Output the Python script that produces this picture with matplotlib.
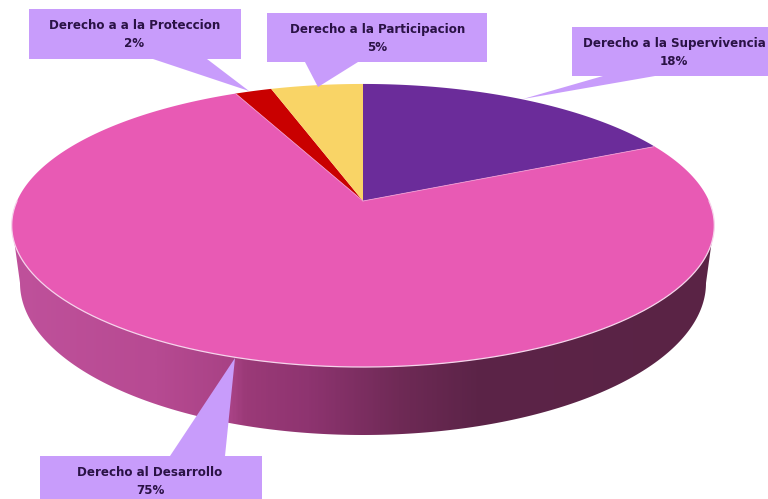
import numpy as np
import matplotlib
matplotlib.use('Agg')
import matplotlib.pyplot as plt
from matplotlib.colors import LinearSegmentedColormap
from matplotlib.patches import Polygon

# Datos del grafico
categorias = ['Derecho a la Supervivencia', 'Derecho al Desarrollo', 'Derecho a a la Proteccion', 'Derecho a la Participacion']
valores = [18, 75, 2, 5]
colores = ['#6B2C9A', '#E85AB4', '#C90000', '#F9D466']

# Perspectiva del disco superior (en pixeles de la imagen)
apex_x, apex_y = 363, 201
k, a, c = 346, 137.3, 0.173


def disco(x, y):
    # circulo unidad -> elipse con el centro desplazado
    den = 1 + c * y
    return apex_x + k * x / den, apex_y - a * y / den


fig = plt.figure(figsize=(7.68, 4.99), dpi=100)
ax = fig.add_axes([0, 0, 1, 1])
ax.set_xlim(0, 768)
ax.set_ylim(499, 0)
ax.axis('off')

# Pared lateral con degradado
t = np.linspace(np.pi, 2 * np.pi, 200)
borde_x = 363 + 343 * np.cos(t)
borde_y = 283 - 152 * np.sin(t)
pared = [(12, 225)] + list(zip(borde_x, borde_y)) + [(714, 225)]
grad = LinearSegmentedColormap.from_list('pared', [
    (0.00, '#BF519B'), (0.20, '#B74A92'), (0.31, '#A84285'), (0.33, '#9B3A78'),
    (0.42, '#8E3470'), (0.55, '#6F2A56'), (0.66, '#5C2448'), (1.00, '#5A2345')])
img = ax.imshow(np.linspace(0, 1, 400)[None, :], cmap=grad, extent=(14, 714, 440, 220), aspect='auto', zorder=1)
ax.set_xlim(0, 768)
ax.set_ylim(499, 0)
img.set_clip_path(Polygon(pared, transform=ax.transData))

# Porciones, en sentido horario desde arriba
inicio = 0
for valor, color in zip(valores, colores):
    ang = np.radians(np.linspace(inicio, inicio + valor * 3.6, 300))
    px, py = disco(np.sin(ang), np.cos(ang))
    ax.fill(np.r_[apex_x, px], np.r_[apex_y, py], color=color, lw=0, zorder=2)
    inicio += valor * 3.6

# Brillo del borde delantero
ang = np.linspace(np.pi * 0.5, np.pi * 1.5, 300)
px, py = disco(np.sin(ang), np.cos(ang))
ax.plot(px, py, color='#F6D5EC', lw=0.9, zorder=3)
ang1 = np.radians(valores[0] * 3.6)
px, py = disco(np.sin(ang1), np.cos(ang1))
ax.plot([apex_x, px], [apex_y, py], color='#F09AD2', lw=0.6, zorder=3)
ang2 = np.radians((valores[0] + valores[1]) * 3.6)
px, py = disco(np.sin(ang2), np.cos(ang2))
ax.plot([apex_x, px], [apex_y, py], color='#F09AD2', lw=0.6, zorder=3)

# Etiquetas con globo
globos = [
    ([(572, 27), (768, 27), (768, 76), (655, 76), (523, 99), (603, 76), (572, 76)], (674, 52)),
    ([(40, 456), (170, 456), (235, 358), (225, 456), (262, 456), (262, 499), (40, 499)], (150, 481)),
    ([(29, 9), (241, 9), (241, 59), (207, 59), (249, 91), (153, 59), (29, 59)], (134.5, 34.5)),
    ([(267, 13), (487, 13), (487, 62), (358, 62), (318, 87), (305, 62), (267, 62)], (377.5, 38)),
]
for cat, val, (forma, pos) in zip(categorias, valores, globos):
    ax.add_patch(Polygon(forma, closed=True, fc='#C89CFB', ec='none', zorder=4))
    ax.text(pos[0], pos[1], f'{cat}\n{val}%', ha='center', va='center', fontsize=8.6,
            fontweight='bold', family='DejaVu Sans', color='#2A1245', linespacing=1.5, zorder=5)

fig.savefig('out.png', dpi=100)
